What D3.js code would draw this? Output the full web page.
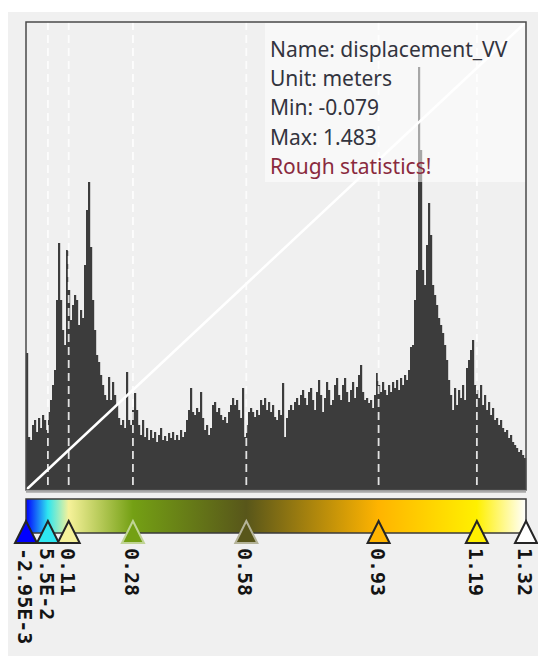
<!DOCTYPE html>
<html>
<head>
<meta charset="utf-8">
<script src="https://cdn.jsdelivr.net/npm/d3@7"></script>
<style>
  body { margin: 0; background: #fff; }
  svg { display: block; }
</style>
</head>
<body>
<script>

// histogram counts, 250 bins over the colour bar range
var binCounts = [
    137, 53, 50, 65, 70, 58, 72, 62, 75, 70,
    60, 78, 90, 105, 120, 190, 247, 190, 160, 145,
    240, 200, 170, 185, 195, 190, 165, 180, 172, 225,
    280, 308, 243, 190, 160, 135, 128, 115, 105, 95,
    90, 113, 90, 108, 95, 85, 72, 65, 70, 62,
    118, 70, 65, 80, 97, 80, 65, 55, 70, 53,
    62, 50, 60, 52, 58, 48, 55, 62, 50, 54,
    49, 57, 52, 58, 50, 55, 50, 60, 53, 58,
    70, 80, 102, 78, 75, 82, 78, 98, 72, 60,
    65, 55, 62, 85, 88, 78, 82, 75, 70, 73,
    67, 78, 85, 92, 85, 90, 80, 72, 102, 53,
    65, 78, 82, 78, 73, 80, 75, 90, 85, 92,
    80, 88, 78, 85, 73, 70, 80, 75, 107, 53,
    72, 80, 85, 80, 88, 92, 85, 95, 100, 92,
    85, 98, 102, 90, 80, 98, 110, 95, 78, 92,
    108, 100, 85, 90, 105, 112, 95, 90, 105, 112,
    98, 88, 100, 108, 92, 103, 115, 125, 98, 90,
    92, 87, 90, 82, 95, 117, 105, 98, 108, 100,
    95, 105, 98, 108, 102, 110, 100, 112, 105, 115,
    110, 120, 143, 145, 190, 220, 423, 340, 220, 205,
    245, 287, 255, 205, 195, 185, 172, 165, 157, 145,
    130, 110, 95, 80, 102, 85, 100, 92, 105, 90,
    122, 130, 140, 150, 105, 100, 92, 105, 85, 95,
    80, 88, 75, 82, 70, 72, 65, 70, 62, 58,
    60, 52, 55, 48, 45, 42, 38, 40, 35, 32
];

// colour map stops
var stopValues = [-0.00295, 0.055, 0.11, 0.28, 0.58, 0.93, 1.19, 1.32];
var stopLabels = ['-2.95E-3', '5.5E-2', '0.11', '0.28', '0.58', '0.93', '1.19', '1.32'];
var stopColors = ['#0000ff', '#2ee6f0', '#f6f29a', '#74a014', '#58561a', '#ffb400', '#fff000', '#ffffff'];

var infoLines = ['Name: displacement_VV', 'Unit: meters', 'Min: -0.079', 'Max: 1.483'];
var infoWarning = 'Rough statistics!';

var width = 538,
    height = 656;

var plot = {left: 26, right: 526, top: 22, bottom: 490};

var svg = d3.select('body')
    .append('svg')
    .attr('width', width)
    .attr('height', height);

svg.append('rect')
    .attr('x', 8)
    .attr('y', 12)
    .attr('width', width - 8)
    .attr('height', height - 12)
    .attr('fill', '#f0f0f0');

var x = d3.scaleLinear()
    .domain([stopValues[0], stopValues[stopValues.length - 1]])
    .range([plot.left, plot.right]);

var xBin = d3.scaleBand()
    .domain(d3.range(binCounts.length))
    .range([plot.left, plot.right])
    .padding(0);

var y = d3.scaleLinear()
    .domain([0, 468])
    .range([plot.bottom, plot.top]);

// bars
svg.append('g')
    .attr('class', 'bars')
    .selectAll('rect')
    .data(binCounts)
    .enter().append('rect')
    .attr('x', function(d, i) { return xBin(i); })
    .attr('width', xBin.bandwidth() + 0.2)
    .attr('y', function(d) { return y(d); })
    .attr('height', function(d) { return plot.bottom - y(d); })
    .attr('fill', '#3c3c3c');

// dashed markers in the histogram
svg.append('g')
    .selectAll('line')
    .data(stopValues.slice(1, -1))
    .enter().append('line')
    .attr('x1', function(d) { return x(d); })
    .attr('x2', function(d) { return x(d); })
    .attr('y1', plot.top)
    .attr('y2', plot.bottom)
    .attr('stroke', '#fff')
    .attr('stroke-width', 1.8)
    .attr('stroke-dasharray', '8,5')
    .attr('opacity', 0.85);

// transfer function line
svg.append('line')
    .attr('x1', x.range()[0])
    .attr('y1', y(0))
    .attr('x2', x.range()[1])
    .attr('y2', y(468))
    .attr('stroke', '#fff')
    .attr('stroke-width', 2.5);

// info box
svg.append('rect')
    .attr('x', 265)
    .attr('y', plot.top + 1)
    .attr('width', plot.right - 265)
    .attr('height', 159)
    .attr('fill', '#fff')
    .attr('opacity', 0.55);

var info = svg.append('g')
    .attr('font-family', '"Noto Sans", sans-serif')
    .attr('font-size', 21);

info.selectAll('text')
    .data(infoLines.concat([infoWarning]))
    .enter().append('text')
    .attr('x', 270)
    .attr('y', function(d, i) { return 57 + i * 29.2; })
    .attr('fill', function(d) { return d === infoWarning ? '#8a2a3e' : '#33343e'; })
    .text(function(d) { return d; });

// frame
svg.append('rect')
    .attr('x', plot.left)
    .attr('y', plot.top)
    .attr('width', plot.right - plot.left)
    .attr('height', plot.bottom - plot.top)
    .attr('fill', 'none')
    .attr('stroke', '#4a4a4a')
    .attr('stroke-width', 1.5);

svg.append('line')
    .attr('x1', plot.left)
    .attr('x2', plot.right)
    .attr('y1', plot.bottom + 1.5)
    .attr('y2', plot.bottom + 1.5)
    .attr('stroke', '#a9a9a9')
    .attr('stroke-width', 2.5);

// colour bar
var grad = svg.append('defs')
    .append('linearGradient')
    .attr('id', 'cmap')
    .attr('x1', '0%').attr('x2', '100%')
    .attr('y1', '0%').attr('y2', '0%');

grad.selectAll('stop')
    .data(stopValues)
    .enter().append('stop')
    .attr('offset', function(d) { return (x(d) - plot.left) / (plot.right - plot.left); })
    .attr('stop-color', function(d, i) { return stopColors[i]; });

svg.append('rect')
    .attr('x', plot.left)
    .attr('y', 499)
    .attr('width', plot.right - plot.left)
    .attr('height', 34)
    .attr('fill', 'url(#cmap)')
    .attr('stroke', '#3a3a3a')
    .attr('stroke-width', 1.5);

// triangle handles
svg.append('g')
    .selectAll('path')
    .data(stopValues)
    .enter().append('path')
    .attr('d', function(d) {
        var cx = x(d);
        return 'M' + cx + ',521L' + (cx + 11) + ',543L' + (cx - 11) + ',543Z';
    })
    .attr('fill', function(d, i) { return stopColors[i]; })
    .attr('stroke', function(d, i) {
        var c = d3.hsl(stopColors[i]);
        if (c.l < 0.45) return d3.interpolateRgb(stopColors[i], '#ffffff')(0.55);
        return '#252525';
    })
    .attr('stroke-width', 2)
    .attr('stroke-linejoin', 'miter');

// rotated labels
svg.append('g')
    .selectAll('text')
    .data(stopValues)
    .enter().append('text')
    .attr('transform', function(d) { return 'translate(' + (x(d) - 1) + ',548) rotate(90)'; })
    .attr('dominant-baseline', 'central')
    .attr('font-family', '"DejaVu Sans Mono", monospace')
    .attr('font-size', 20)
    .attr('font-weight', 'bold')
    .attr('fill', '#141414')
    .text(function(d, i) { return stopLabels[i]; });

</script>
</body>
</html>
